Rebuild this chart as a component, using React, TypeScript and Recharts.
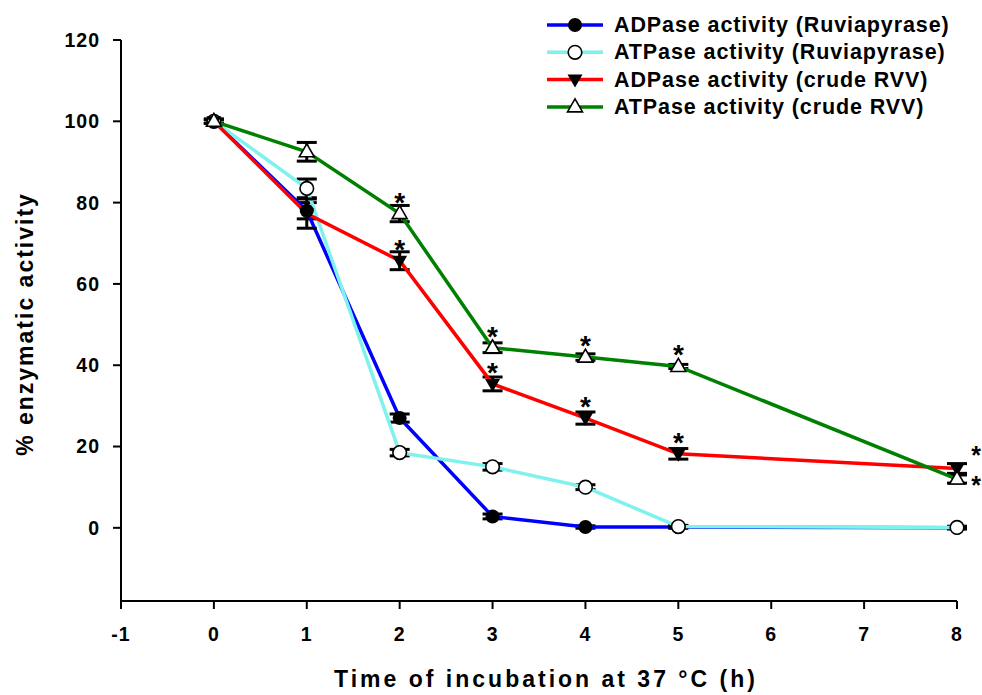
import React from "react";
import { ErrorBar, Line, LineChart, XAxis, YAxis } from "recharts";

const hours = [0, 1, 2, 3, 4, 5, 8];
const adpRuvi = [100, 78, 27, 2.8, 0.2, 0.2, 0];
const adpRuviErr = [0.5, 2, 1, 0.6, 0.3, 0.3, 0.3];
const atpRuvi = [100, 83.5, 18.5, 15, 10, 0.3, 0.1];
const atpRuviErr = [0.5, 2.3, 0.8, 0.8, 0.6, 0.3, 0.3];
const adpCrude = [100, 77.3, 65.7, 35.4, 27, 18.2, 14.6];
const adpCrudeErr = [0.5, 3.6, 2.2, 1.7, 1.5, 1.3, 1.2];
const atpCrude = [100, 92.5, 77.3, 44.3, 42, 39.7, 12];
const atpCrudeErr = [0.5, 2.3, 2, 1.2, 0.8, 0.5, 1];
const adpCrudeSig = [false, false, true, true, true, true, true];
const atpCrudeSig = [false, false, true, true, true, true, true];

const xTicks = [-1, 0, 1, 2, 3, 4, 5, 6, 7, 8];
const yTicks = [0, 20, 40, 60, 80, 100, 120];

const legendNames = [
  "ADPase activity (Ruviapyrase)",
  "ATPase activity (Ruviapyrase)",
  "ADPase activity (crude RVV)",
  "ATPase activity (crude RVV)",
];

const data = hours.map((t, i) => ({
  t,
  adpRuvi: adpRuvi[i],
  adpRuviErr: adpRuviErr[i],
  atpRuvi: atpRuvi[i],
  atpRuviErr: atpRuviErr[i],
  adpCrude: adpCrude[i],
  adpCrudeErr: adpCrudeErr[i],
  atpCrude: atpCrude[i],
  atpCrudeErr: atpCrudeErr[i],
}));

const FONT = "'Liberation Sans', Arial, Helvetica, sans-serif";

const Marker = ({ kind, x, y }: { kind: string; x: number; y: number }) => {
  if (kind === "filledCircle") return <circle cx={x} cy={y} r={7} fill="#000" />;
  if (kind === "openCircle")
    return <circle cx={x} cy={y} r={6.8} fill="#fff" stroke="#000" strokeWidth={1.6} />;
  if (kind === "downTri")
    return <polygon points={`${x - 7.5},${y - 5} ${x + 7.5},${y - 5} ${x},${y + 8}`} fill="#000" />;
  return (
    <polygon
      points={`${x},${y - 8} ${x - 7.5},${y + 5} ${x + 7.5},${y + 5}`}
      fill="#fff"
      stroke="#000"
      strokeWidth={1.6}
    />
  );
};

const dotFor = (kind: string) => (p: any) => (
  <g key={`${kind}-${p.index}`}>
    <Marker kind={kind} x={p.cx} y={p.cy} />
  </g>
);

// significance asterisks: above the point, or to the right at the last time point
const starFor = (sig: boolean[], lastDy: number) => (p: any) => {
  const { x, y, index } = p;
  if (!sig[index]) return <g key={`st-${index}`} />;
  const last = index === hours.length - 1;
  return (
    <text
      key={`st-${index}`}
      x={last ? x + 19 : x}
      y={last ? y + lastDy : y - 2}
      textAnchor="middle"
      fontFamily={FONT}
      fontWeight={700}
      fontSize={last ? 25 : 28}
      fill="#000"
    >
      *
    </text>
  );
};

const series = [
  { key: "adpRuvi", color: "#0000ff", kind: "filledCircle" },
  { key: "atpRuvi", color: "#7ff2ee", kind: "openCircle" },
  { key: "adpCrude", color: "#ff0000", kind: "downTri" },
  { key: "atpCrude", color: "#008000", kind: "upTri" },
];

const tickStyle = { fontSize: 19.5, fontWeight: 700, fill: "#000", fontFamily: FONT, letterSpacing: 1 };

export default function App() {
  return (
    <div style={{ position: "absolute", left: 0, top: 0, background: "#fff" }}>
      <LineChart width={982} height={695} data={data} margin={{ top: 40, right: 25, bottom: 34, left: 61 }}>
        <XAxis
          type="number"
          dataKey="t"
          domain={[-1, 8]}
          ticks={xTicks}
          interval={0}
          height={60}
          stroke="#000"
          strokeWidth={2}
          tickSize={8}
          tickMargin={18}
          tick={tickStyle}
        />
        <YAxis
          type="number"
          domain={[-18, 120]}
          ticks={yTicks}
          interval={0}
          width={60}
          stroke="#000"
          strokeWidth={2}
          tickSize={8}
          tickMargin={13}
          tick={tickStyle}
        />
        <Line
          dataKey="adpRuvi"
          type="linear"
          stroke="#0000ff"
          strokeWidth={3.5}
          dot={dotFor("filledCircle")}
          activeDot={false}
          isAnimationActive={false}
        >
          <ErrorBar dataKey="adpRuviErr" direction="y" width={10} stroke="#000" strokeWidth={3} />
        </Line>
        <Line
          dataKey="atpRuvi"
          type="linear"
          stroke="#7ff2ee"
          strokeWidth={3.5}
          dot={dotFor("openCircle")}
          activeDot={false}
          isAnimationActive={false}
        >
          <ErrorBar dataKey="atpRuviErr" direction="y" width={10} stroke="#000" strokeWidth={3} />
        </Line>
        <Line
          dataKey="adpCrude"
          type="linear"
          stroke="#ff0000"
          strokeWidth={3.5}
          dot={dotFor("downTri")}
          activeDot={false}
          isAnimationActive={false}
          label={starFor(adpCrudeSig, -4)}
        >
          <ErrorBar dataKey="adpCrudeErr" direction="y" width={10} stroke="#000" strokeWidth={3} />
        </Line>
        <Line
          dataKey="atpCrude"
          type="linear"
          stroke="#008000"
          strokeWidth={3.5}
          dot={dotFor("upTri")}
          activeDot={false}
          isAnimationActive={false}
          label={starFor(atpCrudeSig, 15)}
        >
          <ErrorBar dataKey="atpCrudeErr" direction="y" width={10} stroke="#000" strokeWidth={3} />
        </Line>

        <g>
          {series.map((s, i) => {
            const cy = 25 + i * 27.3;
            return (
              <g key={s.key}>
                <line x1={547} x2={603} y1={cy} y2={cy} stroke={s.color} strokeWidth={3.5} />
                <Marker kind={s.kind} x={575} y={cy} />
                <text
                  x={614}
                  y={cy}
                  dominantBaseline="central"
                  fontFamily={FONT}
                  fontWeight={700}
                  fontSize={21.5}
                  letterSpacing={0.9}
                  fill="#000"
                >
                  {legendNames[i]}
                </text>
              </g>
            );
          })}
        </g>

        <text
          x={546}
          y={687}
          textAnchor="middle"
          fontFamily={FONT}
          fontWeight={700}
          fontSize={23}
          letterSpacing={3}
          fill="#000"
        >
          Time of incubation at 37 °C (h)
        </text>
        <text
          transform="translate(33,324) rotate(-90)"
          textAnchor="middle"
          fontFamily={FONT}
          fontWeight={700}
          fontSize={23}
          letterSpacing={2}
          fill="#000"
        >
          % enzymatic activity
        </text>
      </LineChart>
    </div>
  );
}
